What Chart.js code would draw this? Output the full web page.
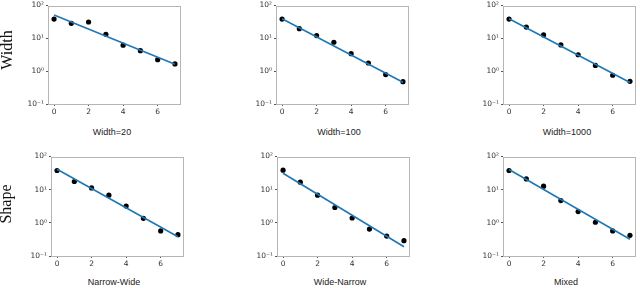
<!DOCTYPE html>
<html>
<head>
<meta charset="utf-8">
<script src="https://cdn.jsdelivr.net/npm/chart.js@4.4.0/dist/chart.umd.min.js"></script>
<style>
  html, body { margin: 0; padding: 0; background: #fff; }
  #wrap { position: relative; width: 640px; height: 288px; overflow: hidden; }
  .panel { position: absolute; }
  .cap { position: absolute; font: 9px "Liberation Sans", Arial, sans-serif; color: #222; transform: translateX(-50%); white-space: nowrap; }
  .row { position: absolute; font: 16px "Liberation Serif", "DejaVu Serif", serif; color: #111; transform: translate(-50%, -50%) rotate(-90deg); white-space: nowrap; }
</style>
</head>
<body>
<div id="wrap"></div>
<script>
/* Six small log-scale panels: measured points + fitted line */
var xSteps = [0, 1, 2, 3, 4, 5, 6, 7];
var xTicks = [0, 2, 4, 6];
var yTicks = [0.1, 1, 10, 100];
var yTickLabels = ["10\u207b\u00b9", "10\u2070", "10\u00b9", "10\u00b2"];
var rowLabels = ["Width", "Shape"];

var titles = ["Width=20", "Width=100", "Width=1000", "Narrow-Wide", "Wide-Narrow", "Mixed"];

var width20   = [38.6, 28.6, 31.4, 13.3, 6.2, 4.2, 2.24, 1.66];
var width100  = [38.6, 19.7, 12.1, 7.6, 3.4, 1.77, 0.79, 0.48];
var width1000 = [38.6, 22.1, 12.7, 6.3, 3.16, 1.5, 0.75, 0.49];
var narrowWide = [37.8, 17.6, 11.3, 6.8, 3.2, 1.37, 0.57, 0.44];
var wideNarrow = [38.6, 16.8, 6.8, 2.9, 1.4, 0.65, 0.40, 0.29];
var mixed      = [37.8, 21.1, 12.7, 4.7, 2.18, 1.04, 0.57, 0.42];

/* fitted line: value at x=0 and at x=7 */
var fitX = [0, 7];
var fit20   = [51, 1.62];
var fit100  = [39.5, 0.46];
var fit1000 = [39.5, 0.45];
var fitNW   = [41.4, 0.38];
var fitWN   = [31.3, 0.19];
var fitMix  = [40.5, 0.32];

var series = [width20, width100, width1000, narrowWide, wideNarrow, mixed];
var fits = [fit20, fit100, fit1000, fitNW, fitWN, fitMix];

/* plot-area boxes in page pixels: left, top, width, height */
var boxes = [
  [48, 5, 135, 99], [276, 5, 135, 99], [503, 5, 136, 99],
  [51, 156, 135, 100], [277, 156, 135, 100], [503, 156, 136, 100]
];
var capPos = [[112, 127], [339, 127], [567, 127], [114, 277], [340, 277], [566, 277]];
var rowPos = [[7, 50], [6, 204]];

var Y_AXIS_W = 36, X_AXIS_H = 16, PAD_TOP = 6;

var frame = {
  id: "frame",
  afterDraw: function (chart) {
    var a = chart.chartArea, ctx = chart.ctx;
    ctx.save();
    ctx.strokeStyle = "#b5b5b5";
    ctx.lineWidth = 1;
    ctx.strokeRect(Math.round(a.left) + 0.5, Math.round(a.top) + 0.5,
      Math.round(a.right - a.left) - 1, Math.round(a.bottom - a.top) - 1);
    ctx.restore();
  }
};

var wrap = document.getElementById("wrap");

boxes.forEach(function (b, i) {
  var div = document.createElement("div");
  div.className = "panel";
  var cw = Math.min(b[2] + Y_AXIS_W + 2, 640 - (b[0] - Y_AXIS_W));
  var ch = b[3] + PAD_TOP + X_AXIS_H;
  div.style.left = (b[0] - Y_AXIS_W) + "px";
  div.style.top = (b[1] - PAD_TOP) + "px";
  div.style.width = cw + "px";
  div.style.height = ch + "px";
  var cv = document.createElement("canvas");
  div.appendChild(cv);
  wrap.appendChild(div);

  var vals = series[i], fit = fits[i];
  new Chart(cv, {
    type: "scatter",
    data: {
      datasets: [
        {
          type: "line",
          data: fitX.map(function (x, k) { return { x: x, y: fit[k] }; }),
          borderColor: "#1f77b4",
          borderWidth: 1.6,
          pointRadius: 0,
          fill: false,
          order: 0,
        },
        {
          data: xSteps.map(function (x, k) { return { x: x, y: vals[k] }; }),
          backgroundColor: "#000",
          borderWidth: 0,
          pointRadius: 2.6,
          order: 1,
        },
      ],
    },
    options: {
      responsive: true,
      maintainAspectRatio: false,
      animation: false,
      events: [],
      layout: { padding: { top: PAD_TOP, right: cw - Y_AXIS_W - b[2], left: 0, bottom: 0 } },
      plugins: { legend: { display: false }, tooltip: { enabled: false } },
      scales: {
        x: {
          type: "linear",
          min: -0.35,
          max: 7.35,
          afterBuildTicks: function (s) { s.ticks = xTicks.map(function (v) { return { value: v }; }); },
          afterFit: function (s) { s.height = X_AXIS_H; },
          border: { display: false },
          grid: { drawOnChartArea: false, drawTicks: true, tickLength: 2, color: "#555" },
          ticks: { font: { family: "DejaVu Sans", size: 7.5 }, color: "#333", padding: 2, maxRotation: 0 },
        },
        y: {
          type: "logarithmic",
          min: 0.1,
          max: 100,
          afterBuildTicks: function (s) { s.ticks = yTicks.map(function (v) { return { value: v }; }); },
          afterFit: function (s) { s.width = Y_AXIS_W; },
          border: { display: false },
          grid: { drawOnChartArea: false, drawTicks: true, tickLength: 2, color: "#555" },
          ticks: {
            font: { family: "DejaVu Sans", size: 7.5 },
            color: "#333",
            padding: 2,
            callback: function (v) { var k = yTicks.indexOf(v); return k < 0 ? "" : yTickLabels[k]; },
          },
        },
      },
    },
    plugins: [frame],
  });

  var cap = document.createElement("div");
  cap.className = "cap";
  cap.textContent = titles[i];
  cap.style.left = capPos[i][0] + "px";
  cap.style.top = capPos[i][1] + "px";
  wrap.appendChild(cap);
});

rowLabels.forEach(function (t, r) {
  var el = document.createElement("div");
  el.className = "row";
  el.textContent = t;
  el.style.left = rowPos[r][0] + "px";
  el.style.top = rowPos[r][1] + "px";
  wrap.appendChild(el);
});
</script>
</body>
</html>
